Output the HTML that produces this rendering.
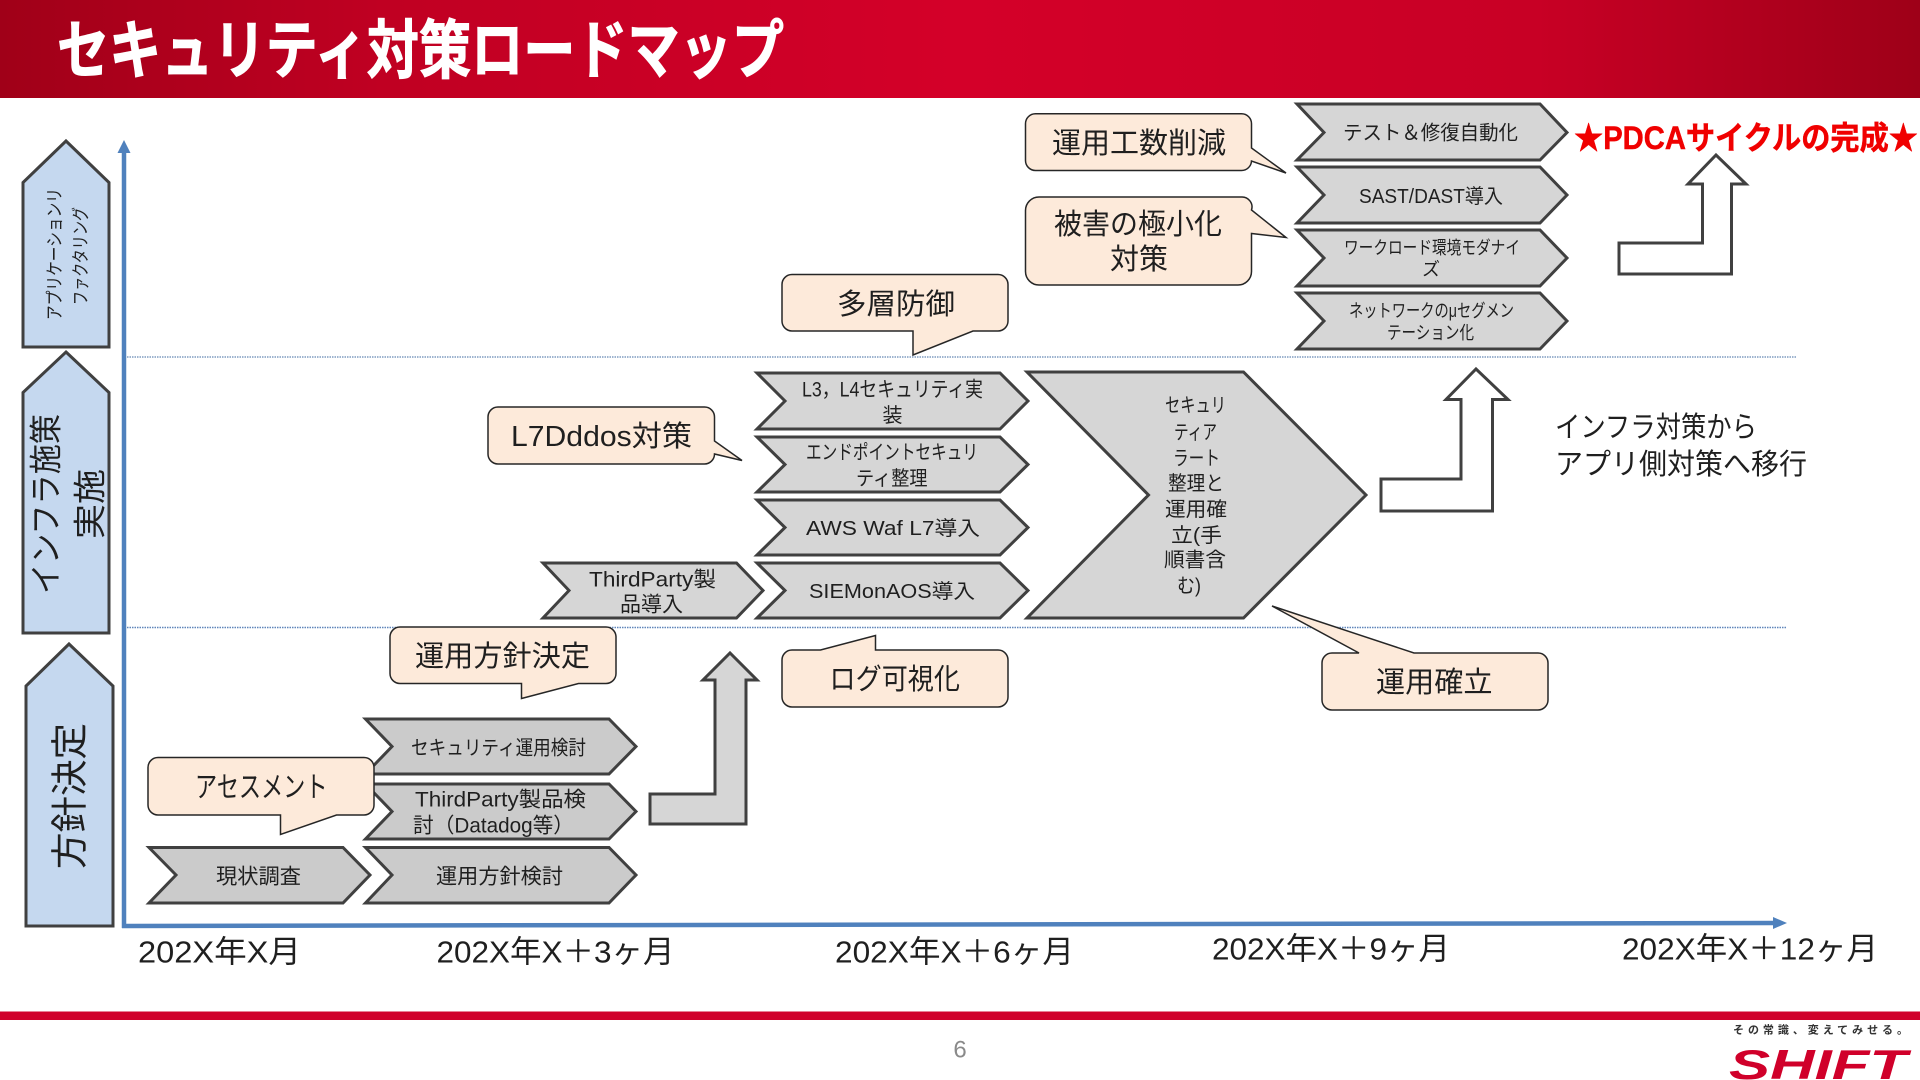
<!DOCTYPE html>
<html lang="ja">
<head>
<meta charset="utf-8">
<title>セキュリティ対策ロードマップ</title>
<style>
html,body{margin:0;padding:0;background:#fff}
svg{display:block}
text{font-family:"Liberation Sans","Noto Sans CJK JP",sans-serif;fill:#1f1f1f;dominant-baseline:central}
.ch{stroke:#404040;stroke-width:3;fill:#d6d6d6;stroke-linejoin:miter}
.cd{stroke:#404040;stroke-width:3;fill:#cbcbcb;stroke-linejoin:miter}
.pe{stroke:#404040;stroke-width:3;fill:#c5d8ef}
.co{stroke:#262626;stroke-width:1.5;fill:#fdeada;stroke-linejoin:miter}
.t20{font-size:20px}.t21{font-size:21px}.t18{font-size:18px}.t29{font-size:29px}.t31{font-size:31px}
</style>
</head>
<body>
<svg xmlns="http://www.w3.org/2000/svg" width="1920" height="1080" viewBox="0 0 1920 1080">
<defs>
<linearGradient id="hd" x1="0" y1="0" x2="1" y2="0">
<stop offset="0" stop-color="#a00018"/>
<stop offset="0.2" stop-color="#c00022"/>
<stop offset="0.5" stop-color="#d40029"/>
<stop offset="0.8" stop-color="#c80025"/>
<stop offset="1" stop-color="#9e0018"/>
</linearGradient>
</defs>
<rect x="0" y="0" width="1920" height="1080" fill="#fff"/>
<rect x="0" y="0" width="1920" height="98" fill="url(#hd)"/>
<text x="57" y="51" font-size="64" font-weight="700" textLength="727" lengthAdjust="spacingAndGlyphs" style="fill:#fff;stroke:#fff;stroke-width:1">セキュリティ対策ロードマップ</text>

<!-- dotted lines -->
<line x1="127" y1="357" x2="1797" y2="357" stroke="#7f9cc0" stroke-width="1.5" stroke-dasharray="1.5 1"/>
<line x1="127" y1="627.5" x2="1787" y2="627.5" stroke="#5f86bb" stroke-width="1.5" stroke-dasharray="1.5 1"/>

<!-- axes -->
<line x1="124" y1="150" x2="124" y2="928" stroke="#4f81bd" stroke-width="4.5"/>
<polygon points="124,140 117.500,153 130.500,153" fill="#4f81bd"/>
<line x1="122" y1="926" x2="1775" y2="923" stroke="#4f81bd" stroke-width="4.5"/>
<polygon points="1787,923 1773,917 1773,929" fill="#4f81bd"/>

<!-- left pentagons -->
<polygon class="pe" points="66,141 109,182.500 109,347 23,347 23,182.500"/>
<polygon class="pe" points="66,352 109,392.500 109,633 23,633 23,392.500"/>
<polygon class="pe" points="69,644 113,686 113,926 26,926 26,686"/>
<text transform="rotate(-90 55 254)" x="55" y="254" font-size="18" text-anchor="middle" textLength="132" lengthAdjust="spacingAndGlyphs">アプリケーションリ</text>
<text transform="rotate(-90 81 256)" x="81" y="256" font-size="18" text-anchor="middle" textLength="98" lengthAdjust="spacingAndGlyphs">ファクタリング</text>
<text transform="rotate(-90 46 504)" x="46" y="504" font-size="33" text-anchor="middle" textLength="180" lengthAdjust="spacingAndGlyphs">インフラ施策</text>
<text transform="rotate(-90 90 504)" x="90" y="504" font-size="33" text-anchor="middle" textLength="70" lengthAdjust="spacingAndGlyphs">実施</text>
<text transform="rotate(-90 70 796)" x="70" y="796" font-size="37" text-anchor="middle" textLength="146" lengthAdjust="spacingAndGlyphs">方針決定</text>

<!-- top right chevrons -->
<polygon class="ch" points="1297,104 1540,104 1567,132.500 1540,160 1297,160 1324,132.500"/>
<polygon class="ch" points="1297,167 1540,167 1567,195 1540,223 1297,223 1324,195"/>
<polygon class="ch" points="1297,230 1540,230 1567,258 1540,286 1297,286 1324,258"/>
<polygon class="ch" points="1297,293 1540,293 1567,321 1540,349 1297,349 1324,321"/>
<text class="t20" x="1343" y="133.500" textLength="175" lengthAdjust="spacingAndGlyphs">テスト＆修復自動化</text>
<text class="t20" x="1359" y="197" textLength="144" lengthAdjust="spacingAndGlyphs">SAST/DAST導入</text>
<text class="t18" x="1344" y="248" textLength="176" lengthAdjust="spacingAndGlyphs">ワークロード環境モダナイ</text>
<text class="t18" x="1431" y="269.500" text-anchor="middle">ズ</text>
<text class="t18" x="1349" y="311" textLength="165" lengthAdjust="spacingAndGlyphs">ネットワークのμセグメン</text>
<text class="t18" x="1387" y="333" textLength="87" lengthAdjust="spacingAndGlyphs">テーション化</text>
<text x="1574" y="138" font-size="32" font-weight="700" textLength="344" lengthAdjust="spacingAndGlyphs" style="fill:#f00000;stroke:#f00000;stroke-width:.5">★PDCAサイクルの完成★</text>

<!-- middle chevrons -->
<polygon class="ch" points="757,373 1000,373 1028,401 1000,429 757,429 785,401"/>
<polygon class="ch" points="757,437 1000,437 1028,464.500 1000,492 757,492 785,464.500"/>
<polygon class="ch" points="757,500 1000,500 1028,527.500 1000,555 757,555 785,527.500"/>
<polygon class="ch" points="757,563 1000,563 1028,590.500 1000,618 757,618 785,590.500"/>
<polygon class="ch" points="543,563 736.500,563 763,590.500 736.500,618 543,618 569,590.500"/>
<polygon class="ch" points="1027,372 1243.500,372 1366,495 1243.500,618 1027,618 1148.500,495"/>
<text class="t21" x="802" y="390" textLength="181" lengthAdjust="spacingAndGlyphs">L3，L4セキュリティ実</text>
<text class="t20" x="892.500" y="416" text-anchor="middle">装</text>
<text class="t20" x="806" y="453" textLength="172" lengthAdjust="spacingAndGlyphs">エンドポイントセキュリ</text>
<text class="t20" x="856" y="479" textLength="71.500" lengthAdjust="spacingAndGlyphs">ティ整理</text>
<text class="t20" x="806" y="529" textLength="174" lengthAdjust="spacingAndGlyphs">AWS Waf L7導入</text>
<text class="t20" x="809" y="592" textLength="166" lengthAdjust="spacingAndGlyphs">SIEMonAOS導入</text>
<text class="t21" x="589" y="580" textLength="127" lengthAdjust="spacingAndGlyphs">ThirdParty製</text>
<text class="t21" x="620" y="605" textLength="63" lengthAdjust="spacingAndGlyphs">品導入</text>
<text class="t20" x="1165" y="406" textLength="61" lengthAdjust="spacingAndGlyphs">セキュリ</text>
<text class="t20" x="1174" y="433" textLength="43" lengthAdjust="spacingAndGlyphs">ティア</text>
<text class="t20" x="1173" y="459" textLength="47" lengthAdjust="spacingAndGlyphs">ラート</text>
<text class="t20" x="1168" y="484" textLength="56" lengthAdjust="spacingAndGlyphs">整理と</text>
<text class="t20" x="1165" y="510" textLength="62" lengthAdjust="spacingAndGlyphs">運用確</text>
<text class="t20" x="1171" y="536" textLength="51" lengthAdjust="spacingAndGlyphs">立(手</text>
<text class="t20" x="1164" y="560.500" textLength="62" lengthAdjust="spacingAndGlyphs">順書含</text>
<text class="t20" x="1177" y="586.500" textLength="24" lengthAdjust="spacingAndGlyphs">む)</text>

<!-- bottom chevrons -->
<polygon class="cd" points="365.500,719 609,719 636,746.500 609,774 365.500,774 392,746.500"/>
<polygon class="cd" points="365.500,784 609,784 636,811.500 609,839 365.500,839 392,811.500"/>
<polygon class="cd" points="149,847.500 343,847.500 370,875 343,903 149,903 176,875"/>
<polygon class="cd" points="365.500,847.500 609,847.500 636,875 609,903 365.500,903 392,875"/>
<text class="t20" x="411" y="748.500" textLength="175" lengthAdjust="spacingAndGlyphs">セキュリティ運用検討</text>
<text class="t21" x="415" y="800" textLength="171" lengthAdjust="spacingAndGlyphs">ThirdParty製品検</text>
<text class="t21" x="413" y="826" textLength="161" lengthAdjust="spacingAndGlyphs">討（Datadog等）</text>
<text class="t21" x="216" y="877" textLength="85" lengthAdjust="spacingAndGlyphs">現状調査</text>
<text class="t21" x="436" y="877" textLength="127" lengthAdjust="spacingAndGlyphs">運用方針検討</text>

<!-- bent arrows -->
<polygon points="650,794 715,794 715,680 703,680 730,653 757,680 746,680 746,824 650,824" fill="#d6d6d6" stroke="#404040" stroke-width="3"/>
<polygon points="1381,479 1461,479 1461,399.500 1446,399.500 1476,369 1508,399.500 1492.500,399.500 1492.500,511 1381,511" fill="#fff" stroke="#404040" stroke-width="3"/>
<polygon points="1619,243 1702.500,243 1702.500,184 1688,184 1716,155 1746,184 1731.500,184 1731.500,274 1619,274" fill="#fff" stroke="#404040" stroke-width="3"/>

<!-- callouts -->
<path class="co" d="M792,274.500H998a10,10 0 0 1 10,10V321a10,10 0 0 1 -10,10H973L913,355V331H792a10,10 0 0 1 -10,-10V284.500a10,10 0 0 1 10,-10Z"/>
<path class="co" d="M498,407H704.500a10,10 0 0 1 10,10V441L742,460.500L714.500,454a10,10 0 0 1 -10,10H498a10,10 0 0 1 -10,-10V417a10,10 0 0 1 10,-10Z"/>
<path class="co" d="M1035.500,113.700H1241.500a10,10 0 0 1 10,10V148L1286,173L1251.500,161a10,10 0 0 1 -10,9.500H1035.500a10,10 0 0 1 -10,-10V123.700a10,10 0 0 1 10,-10Z"/>
<path class="co" d="M1039,197H1241a10,10 0 0 1 10.500,13L1286,237.500L1251.500,233.500V271.500a13.500,13.500 0 0 1 -13.500,13.500H1039a13.500,13.500 0 0 1 -13.500,-13.500V210.500a13.500,13.500 0 0 1 13.500,-13.500Z"/>
<path class="co" d="M400,627H606a10,10 0 0 1 10,10V673.500a10,10 0 0 1 -10,10H578.500L521.500,698.500V683.500H400a10,10 0 0 1 -10,-10V637a10,10 0 0 1 10,-10Z"/>
<path class="co" d="M158,757.500H364a10,10 0 0 1 10,10V805a10,10 0 0 1 -10,10H336.500L280.500,834.500V815H158a10,10 0 0 1 -10,-10V767.500a10,10 0 0 1 10,-10Z"/>
<path class="co" d="M792,650H820.500L875.500,635.500V650H998a10,10 0 0 1 10,10V697a10,10 0 0 1 -10,10H792a10,10 0 0 1 -10,-10V660a10,10 0 0 1 10,-10Z"/>
<path class="co" d="M1332,653H1359L1272,606L1414,653H1538a10,10 0 0 1 10,10V700a10,10 0 0 1 -10,10H1332a10,10 0 0 1 -10,-10V663a10,10 0 0 1 10,-10Z"/>
<text class="t29" x="837" y="305" textLength="118" lengthAdjust="spacingAndGlyphs">多層防御</text>
<text class="t29" x="511" y="437" textLength="181" lengthAdjust="spacingAndGlyphs">L7Dddos対策</text>
<text class="t29" x="1052" y="144" textLength="174" lengthAdjust="spacingAndGlyphs">運用工数削減</text>
<text class="t29" x="1054" y="225" textLength="168" lengthAdjust="spacingAndGlyphs">被害の極小化</text>
<text class="t29" x="1110" y="260" textLength="58" lengthAdjust="spacingAndGlyphs">対策</text>
<text class="t29" x="415" y="657" textLength="175" lengthAdjust="spacingAndGlyphs">運用方針決定</text>
<text class="t29" x="195" y="788" textLength="132.500" lengthAdjust="spacingAndGlyphs">アセスメント</text>
<text class="t29" x="829.500" y="680" textLength="130.500" lengthAdjust="spacingAndGlyphs">ログ可視化</text>
<text class="t29" x="1376" y="683" textLength="116.500" lengthAdjust="spacingAndGlyphs">運用確立</text>
<text class="t29" x="1555" y="428" textLength="202" lengthAdjust="spacingAndGlyphs">インフラ対策から</text>
<text class="t29" x="1555" y="465" textLength="252" lengthAdjust="spacingAndGlyphs">アプリ側対策へ移行</text>

<!-- date labels -->
<text class="t31" x="138" y="952" textLength="163" lengthAdjust="spacingAndGlyphs">202X年X月</text>
<text class="t31" x="436.500" y="952" textLength="238" lengthAdjust="spacingAndGlyphs">202X年X＋3ヶ月</text>
<text class="t31" x="835" y="952" textLength="239" lengthAdjust="spacingAndGlyphs">202X年X＋6ヶ月</text>
<text class="t31" x="1212" y="949" textLength="238" lengthAdjust="spacingAndGlyphs">202X年X＋9ヶ月</text>
<text class="t31" x="1622" y="949" textLength="256" lengthAdjust="spacingAndGlyphs">202X年X＋12ヶ月</text>

<!-- footer -->
<rect x="0" y="1011.500" width="1920" height="8.500" fill="#d0002a"/>
<text x="960" y="1050" font-size="24" text-anchor="middle" style="fill:#8a8a8a">6</text>
<text x="1733" y="1030.500" font-size="11" font-weight="700" textLength="175" lengthAdjust="spacing" style="fill:#333">その常識、変えてみせる。</text>
<text x="1729" y="1064.500" font-size="42" font-weight="700" font-style="italic" textLength="178" lengthAdjust="spacingAndGlyphs" style="fill:#d0002a">SHIFT</text>
</svg>
</body>
</html>
